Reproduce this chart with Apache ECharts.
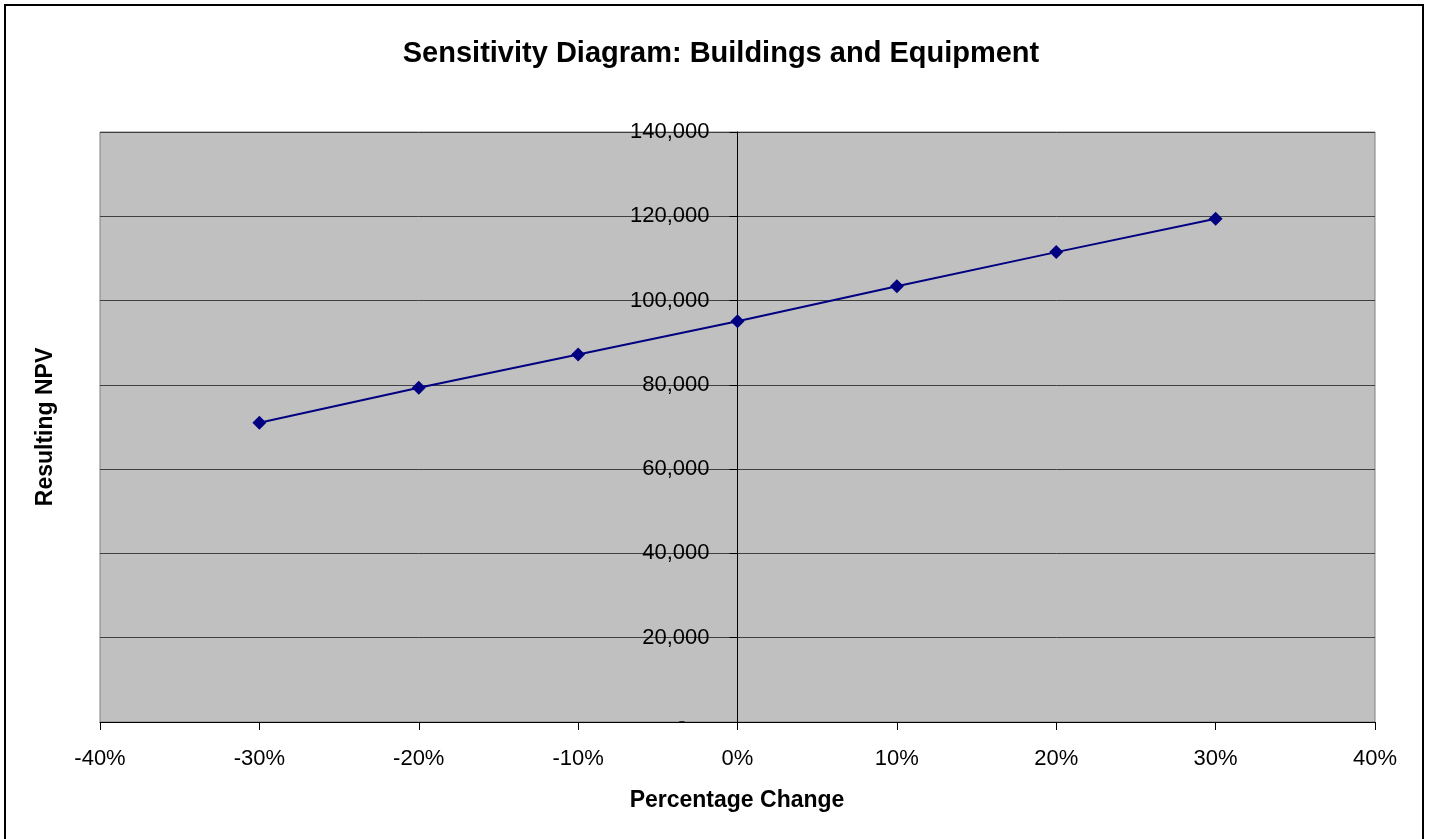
<!DOCTYPE html>
<html>
<head>
<meta charset="utf-8">
<title>Sensitivity Diagram: Buildings and Equipment</title>
<script src="https://cdn.jsdelivr.net/npm/echarts@6/dist/echarts.min.js"></script>
<style>
  html, body { margin: 0; padding: 0; background: #ffffff; }
  #chart { width: 1431px; height: 839px; }
</style>
</head>
<body>
<div id="chart"></div>
<script>
// Percentage change applied to buildings and equipment cost
const pctChanges = [-30, -20, -10, 0, 10, 20, 30];
// Resulting net present value for each change
const npvValues = [71000, 79300, 87200, 95100, 103400, 111500, 119400];

const chartTitle = 'Sensitivity Diagram: Buildings and Equipment';
const xAxisTitle = 'Percentage Change';
const yAxisTitle = 'Resulting NPV';

const FONT = '"Liberation Sans", Arial, sans-serif';

// Plot rectangle
const GRID = { left: 100, right: 56, top: 132, bottom: 117 };
const X_MIN = -40, X_MAX = 40;
const plotWidth = 1431 - GRID.left - GRID.right;
// The value axis is drawn through x = 0, with its labels beside it
const yAxisShift = plotWidth * (0 - X_MIN) / (X_MAX - X_MIN);

const chart = echarts.init(document.getElementById('chart'), null, { renderer: 'canvas' });

chart.setOption({
  animation: false,
  backgroundColor: '#ffffff',
  textStyle: { fontFamily: FONT },
  title: {
    text: chartTitle,
    left: 716,
    textAlign: 'center',
    top: 34,
    textStyle: { fontFamily: FONT, fontSize: 29, fontWeight: 'bold', color: '#000000' }
  },
  graphic: [
    {
      type: 'rect',
      shape: { x: 5, y: 5, width: 1418, height: 900 },
      style: { fill: 'none', stroke: '#000000', lineWidth: 2 },
      silent: true
    },
    {
      type: 'text',
      x: 46,
      y: 427,
      rotation: Math.PI / 2,
      style: {
        text: yAxisTitle,
        fontFamily: FONT,
        fontSize: 23,
        fontWeight: 'bold',
        fill: '#000000',
        align: 'center',
        verticalAlign: 'middle'
      },
      silent: true
    },
    {
      type: 'text',
      x: 737,
      y: 801,
      style: {
        text: xAxisTitle,
        fontFamily: FONT,
        fontSize: 23,
        fontWeight: 'bold',
        fill: '#000000',
        align: 'center',
        verticalAlign: 'middle'
      },
      silent: true
    }
  ],
  grid: {
    left: GRID.left,
    right: GRID.right,
    top: GRID.top,
    bottom: GRID.bottom,
    outerBoundsMode: 'none',
    containLabel: false,
    show: true,
    backgroundColor: '#c0c0c0',
    borderColor: '#808080',
    borderWidth: 1
  },
  xAxis: {
    type: 'value',
    min: X_MIN,
    max: X_MAX,
    interval: 10,
    axisLine: { onZero: false, lineStyle: { color: '#000000', width: 1 } },
    axisTick: { show: true, inside: false, length: 8, lineStyle: { color: '#000000' } },
    axisLabel: {
      margin: 26,
      fontFamily: FONT,
      fontSize: 22,
      color: '#000000',
      formatter: v => v + '%'
    },
    splitLine: { show: false }
  },
  yAxis: {
    type: 'value',
    position: 'left',
    offset: -yAxisShift,
    min: 0,
    max: 140000,
    interval: 20000,
    axisLine: { show: true, onZero: false, lineStyle: { color: '#000000', width: 1 } },
    axisTick: { show: true, inside: false, length: 8, lineStyle: { color: '#000000' } },
    axisLabel: {
      margin: 28,
      fontFamily: FONT,
      fontSize: 22,
      color: '#000000',
      formatter: v => v === 0 ? '{dash|-}' : v.toLocaleString('en-US'),
      rich: {
        dash: { fontFamily: FONT, fontSize: 22, color: '#000000', padding: [0, 24, 0, 0] }
      }
    },
    splitLine: { show: true, lineStyle: { color: '#404040', width: 1 } }
  },
  series: [
    {
      type: 'line',
      data: pctChanges.map((p, i) => [p, npvValues[i]]),
      symbol: 'diamond',
      symbolSize: 14,
      showAllSymbol: true,
      lineStyle: { color: '#000080', width: 2 },
      itemStyle: { color: '#000080', borderWidth: 0 },
      emphasis: { disabled: true }
    }
  ]
});
</script>
</body>
</html>
